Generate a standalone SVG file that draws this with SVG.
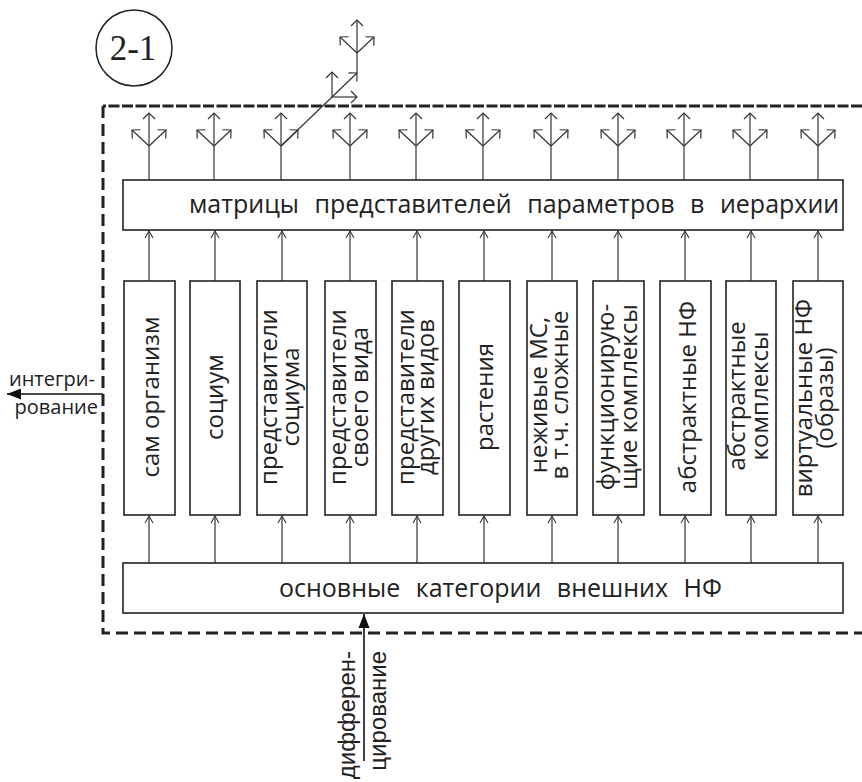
<svg xmlns="http://www.w3.org/2000/svg" xmlns:xlink="http://www.w3.org/1999/xlink" width="862" height="782" viewBox="0 0 862 782">
<style>
.bx{fill:#fff;stroke:#222;stroke-width:1.6}
.cn{stroke:#333;stroke-width:1.2;fill:none}
.t{font-family:"Open Sans","DejaVu Sans",sans-serif;font-size:24px;fill:#222}
.th{font-family:"Open Sans","DejaVu Sans",sans-serif;font-size:25px;fill:#222;word-spacing:9px}
.tl{font-family:"Open Sans","DejaVu Sans",sans-serif;font-size:20px;fill:#222}
.tb{font-family:"Liberation Sans",Arial,sans-serif;font-size:24px;fill:#222}
.bd{stroke:#222;stroke-width:3;fill:none}
</style>
<defs>
<marker id="sm" markerUnits="userSpaceOnUse" markerWidth="12" markerHeight="12" viewBox="-10 -6 12 12" refX="0" refY="0" orient="auto">
<path d="M-7,-4 L0,0 L-7,4" fill="none" stroke="#333" stroke-width="1.1"/>
</marker>
<marker id="op" markerUnits="userSpaceOnUse" markerWidth="14" markerHeight="16" viewBox="-8 -8 10 16" refX="0" refY="0" orient="auto">
<path d="M-6,-6 L0,0 L-6,6" fill="none" stroke="#333" stroke-width="1.2"/>
</marker>
<marker id="fa" markerUnits="userSpaceOnUse" markerWidth="16" markerHeight="12" viewBox="-14 -6 16 12" refX="0" refY="0" orient="auto">
<path d="M-14,-5.5 L0,0 L-14,5.5 Z" fill="#111"/>
</marker>
<g id="tri">
<line x1="0" y1="0" x2="0" y2="-33" class="cn" marker-end="url(#op)"/>
<line x1="0" y1="0" x2="-17" y2="-16" class="cn" marker-end="url(#op)"/>
<line x1="0" y1="0" x2="17" y2="-16" class="cn" marker-end="url(#op)"/>
</g>
</defs>

<g id="circle-label">
<circle cx="134" cy="48" r="38" fill="none" stroke="#222" stroke-width="1.5"/>
<text x="133" y="60" text-anchor="middle" font-family="'Liberation Serif','Times New Roman',serif" font-size="35" fill="#222">2-1</text>
</g>

<g id="boundary">
<path class="bd" d="M862,106 H103" stroke-dasharray="11 2.5"/>
<path class="bd" d="M103,106 V633 H862" stroke-dasharray="12 6"/>
</g>

<g id="connectors">
<g>
<line x1="149" y1="180" x2="149" y2="146" class="cn"/><use xlink:href="#tri" x="149" y="146"/>
<line x1="214" y1="180" x2="214" y2="146" class="cn"/><use xlink:href="#tri" x="214" y="146"/>
<line x1="281" y1="180" x2="281" y2="146" class="cn"/><use xlink:href="#tri" x="281" y="146"/>
<line x1="350" y1="180" x2="350" y2="146" class="cn"/><use xlink:href="#tri" x="350" y="146"/>
<line x1="416" y1="180" x2="416" y2="146" class="cn"/><use xlink:href="#tri" x="416" y="146"/>
<line x1="483" y1="180" x2="483" y2="146" class="cn"/><use xlink:href="#tri" x="483" y="146"/>
<line x1="551" y1="180" x2="551" y2="146" class="cn"/><use xlink:href="#tri" x="551" y="146"/>
<line x1="618" y1="180" x2="618" y2="146" class="cn"/><use xlink:href="#tri" x="618" y="146"/>
<line x1="684" y1="180" x2="684" y2="146" class="cn"/><use xlink:href="#tri" x="684" y="146"/>
<line x1="750" y1="180" x2="750" y2="146" class="cn"/><use xlink:href="#tri" x="750" y="146"/>
<line x1="818" y1="180" x2="818" y2="146" class="cn"/><use xlink:href="#tri" x="818" y="146"/>
</g>
<line x1="281" y1="146" x2="357" y2="73" class="cn" marker-end="url(#op)"/>
<line x1="332" y1="97" x2="332" y2="72" class="cn" marker-end="url(#op)"/>
<line x1="332" y1="97" x2="357" y2="97" class="cn" marker-end="url(#op)"/>
<line x1="357" y1="73" x2="357" y2="53" class="cn"/>
<use xlink:href="#tri" x="357" y="53"/>
<g>
<line x1="149" y1="281" x2="149" y2="231" class="cn" marker-end="url(#sm)"/>
<line x1="215" y1="281" x2="215" y2="231" class="cn" marker-end="url(#sm)"/>
<line x1="282" y1="281" x2="282" y2="231" class="cn" marker-end="url(#sm)"/>
<line x1="350" y1="281" x2="350" y2="231" class="cn" marker-end="url(#sm)"/>
<line x1="417" y1="281" x2="417" y2="231" class="cn" marker-end="url(#sm)"/>
<line x1="484" y1="281" x2="484" y2="231" class="cn" marker-end="url(#sm)"/>
<line x1="552" y1="281" x2="552" y2="231" class="cn" marker-end="url(#sm)"/>
<line x1="618" y1="281" x2="618" y2="231" class="cn" marker-end="url(#sm)"/>
<line x1="685" y1="281" x2="685" y2="231" class="cn" marker-end="url(#sm)"/>
<line x1="751" y1="281" x2="751" y2="231" class="cn" marker-end="url(#sm)"/>
<line x1="818" y1="281" x2="818" y2="231" class="cn" marker-end="url(#sm)"/>
</g>
<g>
<line x1="149" y1="563" x2="149" y2="516" class="cn" marker-end="url(#sm)"/>
<line x1="215" y1="563" x2="215" y2="516" class="cn" marker-end="url(#sm)"/>
<line x1="282" y1="563" x2="282" y2="516" class="cn" marker-end="url(#sm)"/>
<line x1="350" y1="563" x2="350" y2="516" class="cn" marker-end="url(#sm)"/>
<line x1="417" y1="563" x2="417" y2="516" class="cn" marker-end="url(#sm)"/>
<line x1="484" y1="563" x2="484" y2="516" class="cn" marker-end="url(#sm)"/>
<line x1="552" y1="563" x2="552" y2="516" class="cn" marker-end="url(#sm)"/>
<line x1="618" y1="563" x2="618" y2="516" class="cn" marker-end="url(#sm)"/>
<line x1="685" y1="563" x2="685" y2="516" class="cn" marker-end="url(#sm)"/>
<line x1="751" y1="563" x2="751" y2="516" class="cn" marker-end="url(#sm)"/>
<line x1="818" y1="563" x2="818" y2="516" class="cn" marker-end="url(#sm)"/>
</g>
<line x1="103" y1="394" x2="7" y2="394" stroke="#111" stroke-width="1.6" marker-end="url(#fa)"/>
<line x1="364" y1="761" x2="364" y2="614" stroke="#111" stroke-width="1.6" marker-end="url(#fa)"/>
</g>

<g id="top-box">
<rect class="bx" x="123" y="180" width="720" height="50"/>
<text class="th" x="189" y="213">матрицы представителей параметров в иерархии</text>
</g>

<g id="bottom-box">
<rect class="bx" x="123" y="563" width="720" height="50"/>
<text class="th" x="279" y="597">основные категории внешних НФ</text>
</g>

<g id="n1"><rect class="bx" x="124" y="281" width="51" height="234"/>
<text class="t" transform="translate(149.5,397) rotate(-90)" text-anchor="middle" y="9">сам организм</text></g>
<g id="n2"><rect class="bx" x="190" y="281" width="50" height="234"/>
<text class="t" transform="translate(215,397) rotate(-90)" text-anchor="middle" y="8">социум</text></g>
<g id="n3"><rect class="bx" x="257" y="281" width="50" height="234"/>
<text class="t" transform="translate(282,397) rotate(-90)" text-anchor="middle"><tspan x="0" y="-5">представители</tspan><tspan x="0" y="17">социума</tspan></text></g>
<g id="n4"><rect class="bx" x="325" y="281" width="51" height="234"/>
<text class="t" transform="translate(350.5,397) rotate(-90)" text-anchor="middle"><tspan x="0" y="-5">представители</tspan><tspan x="0" y="17">своего вида</tspan></text></g>
<g id="n5"><rect class="bx" x="392" y="281" width="51" height="234"/>
<text class="t" transform="translate(417.5,397) rotate(-90)" text-anchor="middle"><tspan x="0" y="-4">представители</tspan><tspan x="0" y="16">других видов</tspan></text></g>
<g id="n6"><rect class="bx" x="459" y="281" width="51" height="234"/>
<text class="t" transform="translate(484.5,397) rotate(-90)" text-anchor="middle" y="8">растения</text></g>
<g id="n7"><rect class="bx" x="527" y="281" width="50" height="234"/>
<text class="t" transform="translate(552,395) rotate(-90)" text-anchor="middle"><tspan x="0" y="-5">неживые МС,</tspan><tspan x="0" y="16">в т.ч. сложные</tspan></text></g>
<g id="n8"><rect class="bx" x="593" y="281" width="51" height="234"/>
<text class="t" transform="translate(618.5,397) rotate(-90)" text-anchor="middle"><tspan x="0" y="-5">функционирую-</tspan><tspan x="0" y="18">щие комплексы</tspan></text></g>
<g id="n9"><rect class="bx" x="660" y="281" width="51" height="234"/>
<text class="t" transform="translate(685.5,397) rotate(-90)" text-anchor="middle" y="10">абстрактные НФ</text></g>
<g id="n10"><rect class="bx" x="726" y="281" width="50" height="234"/>
<text class="t" transform="translate(751,396) rotate(-90)" text-anchor="middle"><tspan x="0" y="-6">абстрактные</tspan><tspan x="0" y="17">комплексы</tspan></text></g>
<g id="n11"><rect class="bx" x="793" y="281" width="50" height="234"/>
<text class="t" transform="translate(818,398) rotate(-90)" text-anchor="middle"><tspan x="0" y="-6">виртуальные НФ</tspan><tspan x="0" y="15">(образы)</tspan></text></g>

<g id="label-integration">
<text class="tl" x="95" y="386" text-anchor="end">интегри-</text>
<text class="tl" x="98" y="414" text-anchor="end">рование</text>
</g>

<g id="label-differentiation">
<text class="tb" transform="translate(355,651) rotate(-90)" text-anchor="end">дифферен-</text>
<text class="tb" transform="translate(386,651) rotate(-90)" text-anchor="end">цирование</text>
</g>
</svg>
